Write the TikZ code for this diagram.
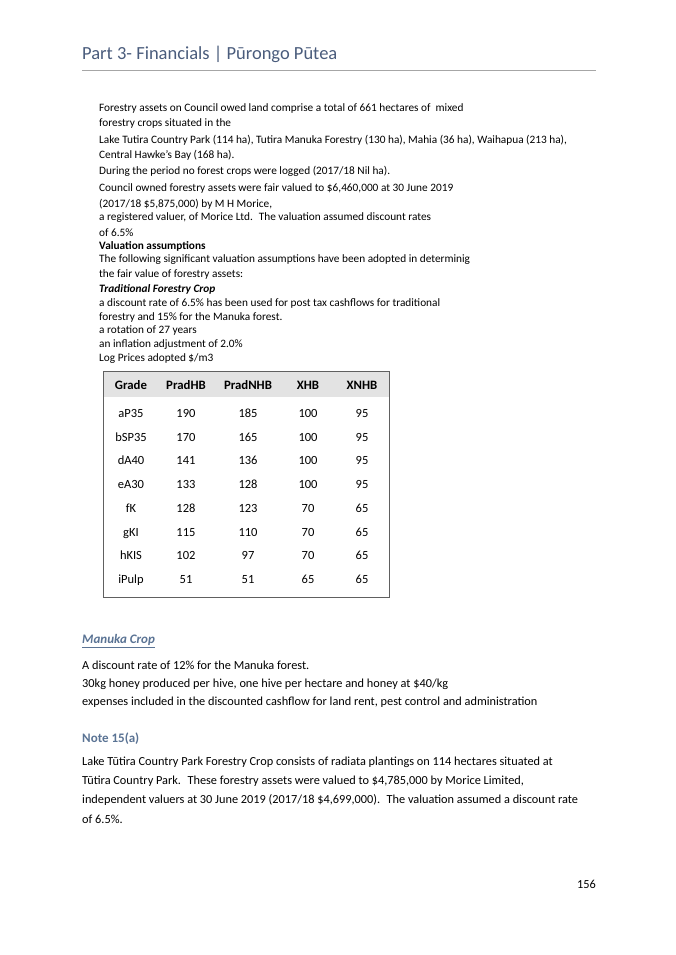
\documentclass[tikz,border=0pt]{standalone}
\usepackage{fontspec}
\setmainfont{Carlito}
\definecolor{hd}{HTML}{4A5C7C}
\definecolor{sub}{HTML}{5A7394}
\begin{document}
\begin{tikzpicture}[x=1pt,y=-1pt,
  t/.style={anchor=west,inner sep=0pt,font=\fontsize{11.3}{13}\selectfont},
  u/.style={anchor=west,inner sep=0pt,font=\fontsize{12.3}{14}\selectfont},
  c/.style={anchor=base,inner sep=0pt,font=\fontsize{12.5}{14}\selectfont}]
\useasboundingbox[fill=white] (0,0) rectangle (675,955);
\node[anchor=west,inner sep=0pt,text=hd,font=\fontsize{18.5}{20}\selectfont] (title) at (82,54) {Part 3- Financials | Pūrongo Pūtea};
\draw[gray!70,line width=0.8pt] (82,70) -- (596,70);
\node[t] (l1) at (99,108) {Forestry assets on Council owed land comprise a total of 661 hectares of~ mixed};
\node[t] (l2) at (99,123) {forestry crops situated in the};
\node[t] (l3) at (99,140) {Lake Tutira Country Park (114 ha), Tutira Manuka Forestry (130 ha), Mahia (36 ha), Waihapua (213 ha),};
\node[t] (l4) at (99,155) {Central Hawke's Bay (168 ha).};
\node[t] (l5) at (99,171) {During the period no forest crops were logged (2017/18 Nil ha).};
\node[t] (l6) at (99,188) {Council owned forestry assets were fair valued to \$6,460,000 at 30 June 2019};
\node[t] (l7) at (99,204) {(2017/18 \$5,875,000) by M H Morice,};
\node[t] (l8) at (99,218) {a registered valuer, of Morice Ltd.~ The valuation assumed discount rates};
\node[t] (l9) at (99,233) {of 6.5\%};
\node[t,font=\fontsize{11.3}{13}\selectfont\bfseries] (l10) at (99,246) {Valuation assumptions};
\node[t] (l11) at (99,260) {The following significant valuation assumptions have been adopted in determinig};
\node[t] (l12) at (99,274) {the fair value of forestry assets:};
\node[t,font=\fontsize{11.3}{13}\selectfont\bfseries\itshape] (l13) at (99,289) {Traditional Forestry Crop};
\node[t] (l14) at (99,303) {a discount rate of 6.5\% has been used for post tax cashflows for traditional};
\node[t] (l15) at (99,317) {forestry and 15\% for the Manuka forest.};
\node[t] (l16) at (99,331) {a rotation of 27 years};
\node[t] (l17) at (99,345) {an inflation adjustment of 2.0\%};
\node[t] (l18) at (99,359) {Log Prices adopted \$/m3};
% table
\fill[gray!22] (103,371) rectangle (389,397);
\draw[gray!75!black,line width=0.8pt] (103,371) rectangle (389,597);
\foreach \x/\h in {131/Grade,186/PradHB,248/PradNHB,308/XHB,362/XNHB}
  \node[c,font=\fontsize{12.8}{14}\selectfont\bfseries] (h\h) at (\x,389) {\h};
\foreach \r [count=\i] in {{aP35,190,185,100,95},{bSP35,170,165,100,95},{dA40,141,136,100,95},{eA30,133,128,100,95},{fK,128,123,70,65},{gKI,115,110,70,65},{hKIS,102,97,70,65},{iPulp,51,51,65,65}}{
  \foreach \v [count=\j] in \r {
    \pgfmathsetmacro\xx{{0,131,186,248,308,362}[\j]}
    \node[c] (r\i c\j) at (\xx,{417.5+23.7*(\i-1)}) {\v};
  }
}
\node[u,text=sub,font=\fontsize{13}{15}\selectfont\bfseries\itshape] (mk) at (82,641) {\underline{Manuka Crop}};
\node[u] (m1) at (82,665) {A discount rate of 12\% for the Manuka forest.};
\node[u] (m2) at (82,684) {30kg honey produced per hive, one hive per hectare and honey at \$40/kg};
\node[u] (m3) at (82,702) {expenses included in the discounted cashflow for land rent, pest control and administration};
\node[u,text=sub,font=\fontsize{13}{15}\selectfont\bfseries] (nt) at (82,739) {Note 15(a)};
\node[u] (n1) at (82,762) {Lake Tūtira Country Park Forestry Crop consists of radiata plantings on 114 hectares situated at};
\node[u] (n2) at (82,781) {Tūtira Country Park.~ These forestry assets were valued to \$4,785,000 by Morice Limited,};
\node[u] (n3) at (82,800) {independent valuers at 30 June 2019 (2017/18 \$4,699,000).~ The valuation assumed a discount rate};
\node[u] (n4) at (82,819) {of 6.5\%.};
\node[anchor=east,inner sep=0pt,font=\fontsize{12.3}{14}\selectfont] (pg) at (596,884) {156};
\end{tikzpicture}
\end{document}
